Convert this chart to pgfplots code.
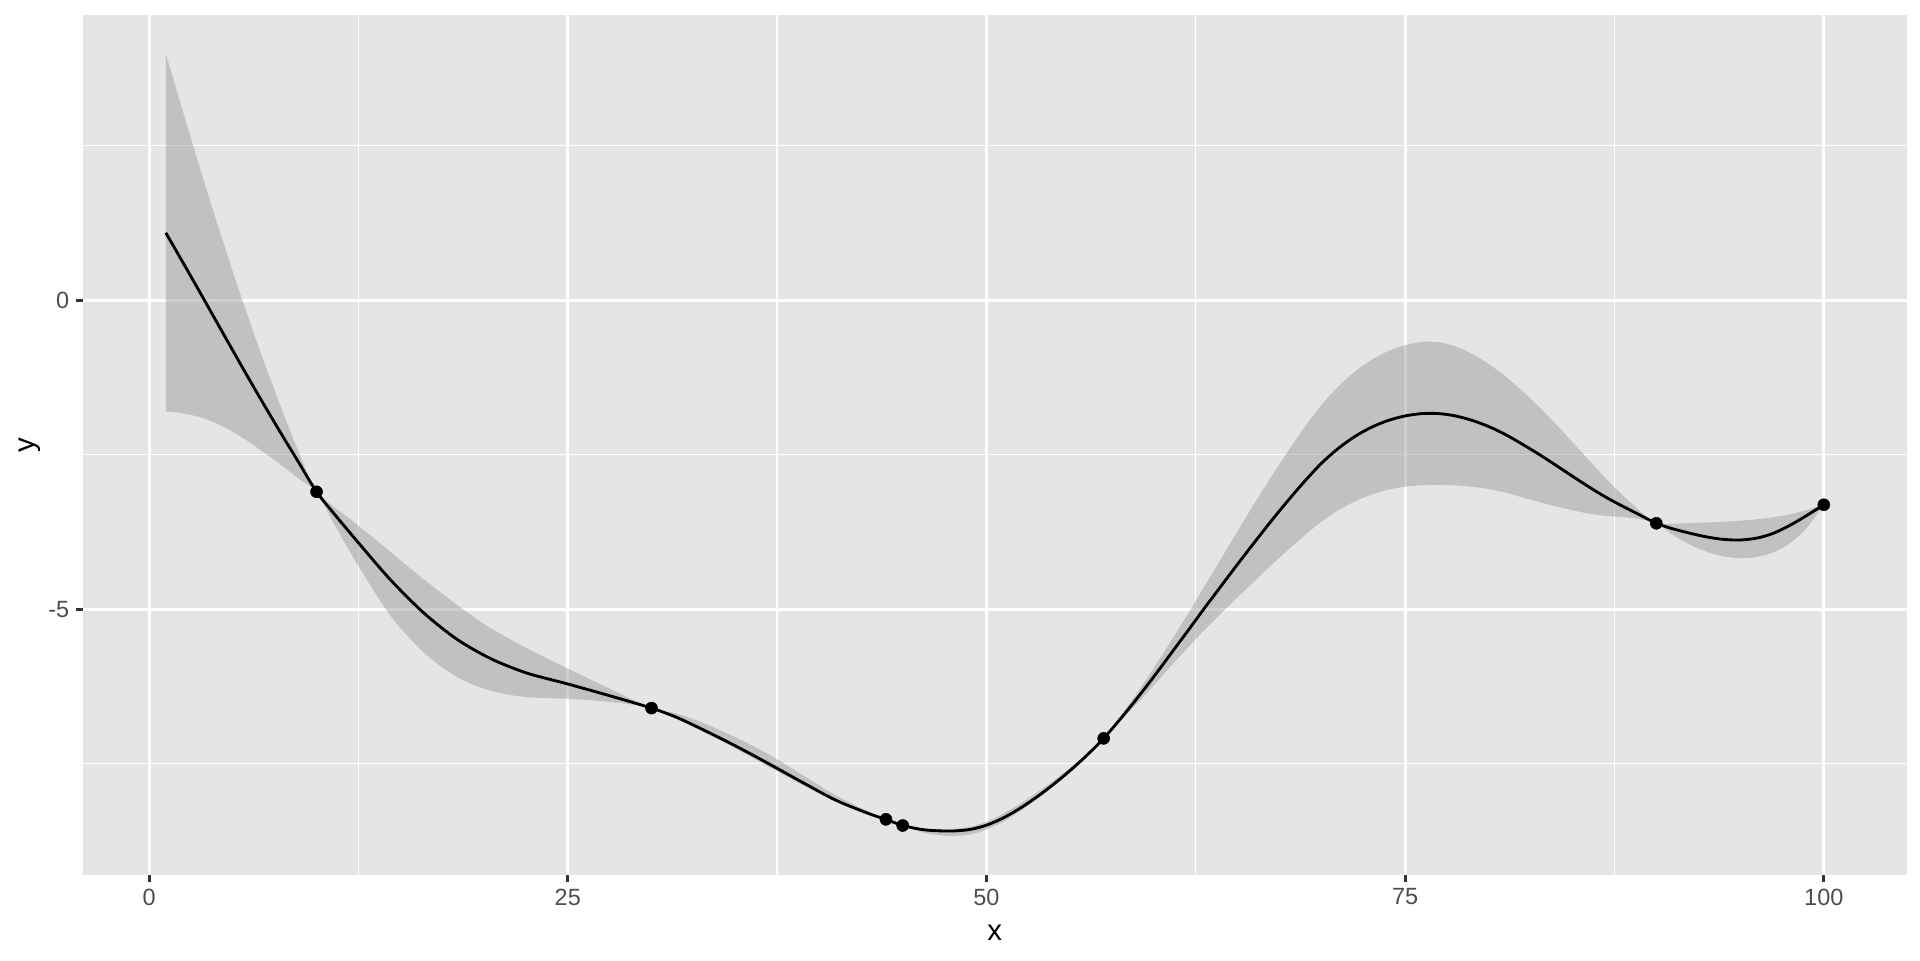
\documentclass[border=0pt]{standalone}
\usepackage{pgfplots}
\usepackage{pgfplotstable}
\pgfplotsset{compat=1.18}
\usepgfplotslibrary{fillbetween}
\usepackage{fontspec}
\setmainfont{Liberation Sans}
\definecolor{ggbg}{HTML}{E5E5E5}
\definecolor{ggtick}{HTML}{333333}
\definecolor{ggtext}{HTML}{4D4D4D}
\definecolor{ribbon}{HTML}{999999}

\pgfplotstableread{
x m
1 1.09
2 0.62
3 0.145
4 -0.335
5 -0.815
6 -1.29
7 -1.755
8 -2.21
9 -2.655
10 -3.10
11 -3.44
12.5 -3.925
14.4 -4.52
16.4 -5.06
18.4 -5.49
20.4 -5.80
22.4 -6.02
24 -6.14
25 -6.21
27.5 -6.40
30 -6.60
31.5 -6.75
33 -6.94
35 -7.21
37 -7.50
39 -7.80
41 -8.09
43 -8.31
44 -8.40
45 -8.50
46.3 -8.57
47.8 -8.59
49 -8.565
50 -8.495
51 -8.378
52 -8.223
53 -8.04
54 -7.835
55 -7.61
56 -7.363
57 -7.09
58 -6.775
59 -6.44
60 -6.09
61 -5.725
62 -5.36
63 -4.99
64 -4.63
65 -4.27
66 -3.92
67 -3.575
68 -3.245
69 -2.93
70 -2.64
71 -2.40
72 -2.205
73 -2.055
74 -1.945
75 -1.873
76 -1.835
77 -1.835
78 -1.872
79 -1.945
80 -2.045
81 -2.175
82 -2.33
83 -2.495
84 -2.67
85 -2.85
86 -3.025
87 -3.19
88 -3.335
89 -3.473
90 -3.61
91 -3.70
92 -3.77
93 -3.83
94 -3.87
95 -3.88
96 -3.85
97 -3.77
98 -3.64
99 -3.48
100 -3.31
}\meantab

\pgfplotstableread{
x y
1 3.99
2 3.07
3 2.17
4 1.30
5 0.46
6 -0.34
7 -1.10
8 -1.82
9 -2.50
10 -3.10
12 -3.54
14 -3.98
16 -4.43
18 -4.85
20 -5.24
22 -5.55
24 -5.83
26 -6.09
28 -6.35
30 -6.60
31.5 -6.69
33 -6.83
35 -7.07
37 -7.35
39 -7.68
41 -8.01
43 -8.28
44 -8.40
45 -8.50
46.3 -8.55
47.8 -8.56
49 -8.52
50 -8.44
51 -8.31
52 -8.15
53 -7.97
54 -7.775
55 -7.565
56 -7.34
57 -7.09
58 -6.74
59 -6.355
60 -5.95
61 -5.525
62 -5.09
63 -4.64
64 -4.19
65 -3.735
66 -3.29
67 -2.86
68 -2.445
69 -2.055
70 -1.695
71 -1.40
72 -1.155
73 -0.965
74 -0.825
75 -0.728
76 -0.675
77 -0.68
78 -0.747
79 -0.87
80 -1.035
81 -1.235
82 -1.47
83 -1.725
84 -2.005
85 -2.30
86 -2.595
87 -2.89
88 -3.16
89 -3.403
90 -3.61
92 -3.605
94 -3.585
96 -3.545
98 -3.465
100 -3.31
}\hitab

\pgfplotstableread{
x y
1 -1.80
2 -1.83
3 -1.89
4 -1.99
5 -2.13
6 -2.30
7 -2.49
8 -2.69
9 -2.90
10 -3.10
11 -3.60
12.5 -4.30
14.4 -5.10
16.4 -5.70
18.4 -6.10
20.4 -6.32
22.4 -6.42
24 -6.44
25 -6.45
26.5 -6.475
28 -6.515
29 -6.55
30 -6.60
31.5 -6.77
33 -6.97
35 -7.25
37 -7.55
39 -7.84
41 -8.11
43 -8.32
44 -8.40
45 -8.50
46.3 -8.62
47.8 -8.67
49 -8.645
50 -8.565
51 -8.44
52 -8.27
53 -8.075
54 -7.86
55 -7.63
56 -7.375
57 -7.09
58 -6.81
59 -6.525
60 -6.23
61 -5.925
62 -5.63
63 -5.34
64 -5.07
65 -4.805
66 -4.55
67 -4.29
68 -4.045
69 -3.805
70 -3.585
71 -3.40
72 -3.255
73 -3.145
74 -3.065
75 -3.018
76 -2.995
77 -2.99
78 -2.997
79 -3.02
80 -3.055
81 -3.115
82 -3.19
83 -3.265
84 -3.335
85 -3.40
86 -3.455
87 -3.49
88 -3.51
89 -3.543
90 -3.61
91 -3.80
92 -3.955
93 -4.07
94 -4.145
95 -4.175
96 -4.155
97 -4.08
98 -3.93
99 -3.68
100 -3.31
}\lotab

\begin{document}
\begin{tikzpicture}
\begin{axis}[
  at={(0,0)}, anchor=south west,
  scale only axis,
  width=683.9pt, height=322.6pt,
  xmin=-3.95, xmax=104.95,
  ymin=-9.30, ymax=4.62,
  axis background/.style={fill=ggbg},
  axis line style={draw=none},
  grid=both,
  major grid style={white, line width=1.07pt},
  minor grid style={white, line width=0.53pt},
  xtick={0,25,50,75,100}, xticklabels={0,25,50,75,100},
  ytick={-5,0}, yticklabels={-5,0},
  minor xtick={12.5,37.5,62.5,87.5},
  minor ytick={-7.5,-2.5,2.5},
  tick align=outside, tick pos=left,
  major tick length=2.75pt, minor tick length=0pt,
  tick style={ggtick, line width=1.07pt},
  xticklabel style={font=\fontsize{8.8}{10}\selectfont, text=ggtext, inner sep=0pt, anchor=north, yshift=-2.2pt},
  yticklabel style={font=\fontsize{8.8}{10}\selectfont, text=ggtext, inner sep=0pt, anchor=east, xshift=-2.2pt},
  xlabel={x}, ylabel={y},
  xlabel style={font=\fontsize{11}{13}\selectfont, at={(axis description cs:0.5,0)}, anchor=center, yshift=-21.8pt},
  ylabel style={font=\fontsize{11}{13}\selectfont, at={(axis description cs:0,0.5)}, anchor=center, yshift=19.8pt},
]
\addplot[name path=lo, draw=none, smooth, forget plot] table[x=x,y=y]{\lotab};
\addplot[name path=hi, draw=none, smooth, forget plot] table[x=x,y=y]{\hitab};
\addplot[ribbon, fill opacity=0.47, draw=none] fill between[of=lo and hi];
\addplot[black, line width=1.07pt, smooth, no markers] table[x=x,y=m]{\meantab};
\addplot[only marks, mark=*, mark size=2.25pt, black, mark options={line width=0.2pt}] coordinates {
(10,-3.10) (30,-6.60) (44,-8.40) (45,-8.50) (57,-7.09) (90,-3.61) (100,-3.31)};
\end{axis}
\path (-31.1pt,-31.9pt) rectangle (688.9pt,328.1pt);
\end{tikzpicture}
\end{document}
